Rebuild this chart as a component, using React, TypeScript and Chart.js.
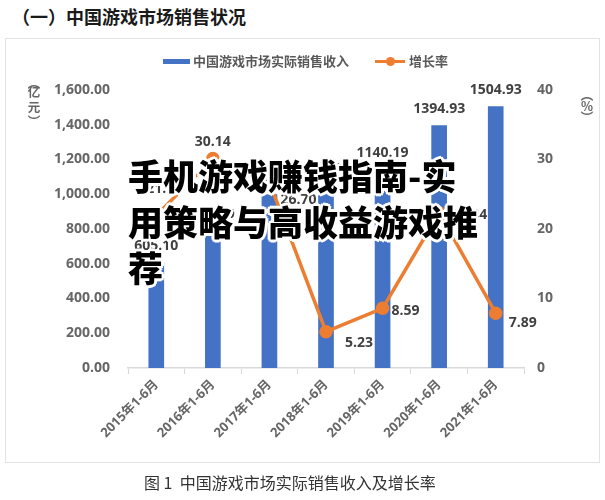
import React, { useEffect, useRef } from 'react';
import { Chart, registerables } from 'chart.js';

Chart.register(...registerables);

const categories = ['2015年1-6月', '2016年1-6月', '2017年1-6月', '2018年1-6月', '2019年1-6月', '2020年1-6月', '2021年1-6月'];
const revenue = [605.1, 787.0, 997.8, 1050.0, 1140.19, 1394.93, 1504.93];
const growth = [21.95, 30.14, 26.7, 5.23, 8.59, 22.34, 7.89];
const revenueLabel = '中国游戏市场实际销售收入';
const growthLabel = '增长率';
const leftAxisTitle = ['︵', '亿', '元', '︶'];
const rightAxisTitle = ['︵', '%', '︶'];

const BLUE = '#4472C4';
const ORANGE = '#ED7D31';
const TICK_GRAY = '#666666';
const LABEL_DARK = '#404040';
const FONT = '"Open Sans", "Noto Sans CJK SC", sans-serif';

// label placement (style) for the growth-rate labels, relative to each point
const LINE_LABEL_OFFSETS: [number, number][] = [
  [8, -26], [0, -17], [29, 18], [33, 11], [23, 3], [30, 2], [27, 10],
];
// vertical placement (style) of the stacked axis-title glyphs
const LEFT_TITLE_Y = [83, 92, 107, 121];
const RIGHT_TITLE_Y = [95, 106, 117];

const labelPlugin = {
  id: 'valueLabels',
  afterDatasetsDraw(chart: any) {
    const ctx = chart.ctx;
    ctx.save();
    ctx.font = `bold 14px ${FONT}`;
    ctx.fillStyle = LABEL_DARK;
    ctx.textAlign = 'center';
    ctx.textBaseline = 'middle';
    const barMeta = chart.getDatasetMeta(0);
    barMeta.data.forEach((el: any, i: number) => {
      ctx.fillText(revenue[i].toFixed(2), el.x, el.y - 17);
    });
    const lineMeta = chart.getDatasetMeta(1);
    lineMeta.data.forEach((el: any, i: number) => {
      const [dx, dy] = LINE_LABEL_OFFSETS[i];
      ctx.fillText(growth[i].toFixed(2), el.x + dx, el.y + dy);
    });
    ctx.restore();
  },
};

function VerticalTitle({ chars, cx, ys }: { chars: string[]; cx: number; ys: number[] }) {
  return (
    <>
      {chars.map((c, i) => (
        <span key={i} style={{ position: 'absolute', left: cx - 10, top: ys[i] - 8, width: 20, height: 16, lineHeight: '16px', textAlign: 'center', fontSize: 12.5, fontWeight: 700, color: TICK_GRAY }}>{c}</span>
      ))}
    </>
  );
}

export default function App() {
  const ref = useRef<HTMLCanvasElement | null>(null);

  useEffect(() => {
    if (!ref.current) return;
    const chart = new Chart(ref.current, {
      type: 'bar',
      data: {
        labels: categories,
        datasets: [
          {
            type: 'bar',
            label: revenueLabel,
            data: revenue,
            backgroundColor: BLUE,
            barThickness: 15,
            yAxisID: 'y',
            order: 1,
          },
          {
            type: 'line',
            label: growthLabel,
            data: growth,
            borderColor: ORANGE,
            backgroundColor: ORANGE,
            borderWidth: 3.5,
            pointRadius: 5,
            pointBackgroundColor: ORANGE,
            pointBorderColor: ORANGE,
            yAxisID: 'y1',
            order: 0,
          },
        ] as any,
      },
      options: {
        animation: false,
        responsive: false,
        layout: { padding: { top: 90, left: 0, right: 0, bottom: 0 } },
        plugins: { legend: { display: false }, tooltip: { enabled: false } },
        scales: {
          x: {
            grid: {
              offset: true,
              drawOnChartArea: false,
              drawTicks: true,
              tickLength: 6,
              color: '#d9d9d9',
            },
            border: { display: true, color: '#d9d9d9', width: 1.5 },
            ticks: {
              minRotation: 45,
              maxRotation: 45,
              padding: 3,
              color: TICK_GRAY,
              font: { family: FONT, size: 13, weight: 'bold' },
            },
            afterFit(scale: any) { scale.height = 132; },
          },
          y: {
            position: 'left',
            min: 0,
            max: 1600,
            grid: { display: false, drawTicks: false },
            border: { display: false },
            ticks: {
              stepSize: 200,
              padding: 18,
              color: TICK_GRAY,
              font: { family: FONT, size: 14, weight: 'bold' },
              callback: (v: any) => Number(v).toLocaleString('en-US', { minimumFractionDigits: 2, maximumFractionDigits: 2 }),
            },
            afterFit(scale: any) { scale.width = 128; },
          },
          y1: {
            position: 'right',
            min: 0,
            max: 40,
            grid: { display: false, drawTicks: false },
            border: { display: false },
            ticks: {
              stepSize: 10,
              padding: 13,
              color: TICK_GRAY,
              font: { family: FONT, size: 14, weight: 'bold' },
            },
            afterFit(scale: any) { scale.width = 81; },
          },
        },
      } as any,
      plugins: [labelPlugin],
    });
    return () => chart.destroy();
  }, []);

  const haloShadow = [
    '2px 0 0 #fff', '-2px 0 0 #fff', '0 2px 0 #fff', '0 -2px 0 #fff',
    '2px 2px 0 #fff', '-2px -2px 0 #fff', '2px -2px 0 #fff', '-2px 2px 0 #fff',
    '3px 0 0 #fff', '-3px 0 0 #fff', '0 3px 0 #fff', '0 -3px 0 #fff',
  ].join(', ');

  return (
    <div style={{ position: 'fixed', left: 0, top: 0, width: 605, height: 500, background: '#fff', overflow: 'hidden', fontFamily: '"Noto Sans CJK SC", sans-serif' }}>
      <div style={{ position: 'absolute', left: 12, top: 3, fontSize: 18, fontWeight: 700, color: '#1a1a1a', lineHeight: '26px', whiteSpace: 'nowrap' }}>
        （一）中国游戏市场销售状况
      </div>
      <div style={{ position: 'absolute', left: 5, top: 38, width: 595, height: 425, border: '1px solid #e3e3e3', boxSizing: 'border-box' }} />
      <canvas ref={ref} width={605} height={500} style={{ position: 'absolute', left: 0, top: 0, width: 605, height: 500 }} />
      {/* legend */}
      <div style={{ position: 'absolute', left: 163, top: 59, width: 27, height: 5, background: BLUE }} />
      <div style={{ position: 'absolute', left: 193, top: 52, fontSize: 13, fontWeight: 700, color: '#595959', lineHeight: '18px', whiteSpace: 'nowrap' }}>{revenueLabel}</div>
      <div style={{ position: 'absolute', left: 375, top: 60, width: 30, height: 3, background: ORANGE }} />
      <div style={{ position: 'absolute', left: 386, top: 57, width: 9, height: 9, borderRadius: '50%', background: ORANGE }} />
      <div style={{ position: 'absolute', left: 409, top: 52, fontSize: 13, fontWeight: 700, color: '#595959', lineHeight: '18px', whiteSpace: 'nowrap' }}>{growthLabel}</div>
      {/* axis titles */}
      <VerticalTitle chars={leftAxisTitle} cx={34} ys={LEFT_TITLE_Y} />
      <VerticalTitle chars={rightAxisTitle} cx={587} ys={RIGHT_TITLE_Y} />
      {/* caption */}
      <div style={{ position: 'absolute', left: 144, top: 471, fontSize: 16, fontWeight: 400, color: '#333', lineHeight: '22px', whiteSpace: 'nowrap' }}>图 1&nbsp; 中国游戏市场实际销售收入及增长率</div>
      {/* overlay headline */}
      <div style={{ position: 'absolute', left: 128, top: 152, width: 355, fontSize: 35, fontWeight: 900, color: '#000', lineHeight: '46px', textShadow: haloShadow }}>
        手机游戏赚钱指南-实用策略与高收益游戏推荐
      </div>
    </div>
  );
}
